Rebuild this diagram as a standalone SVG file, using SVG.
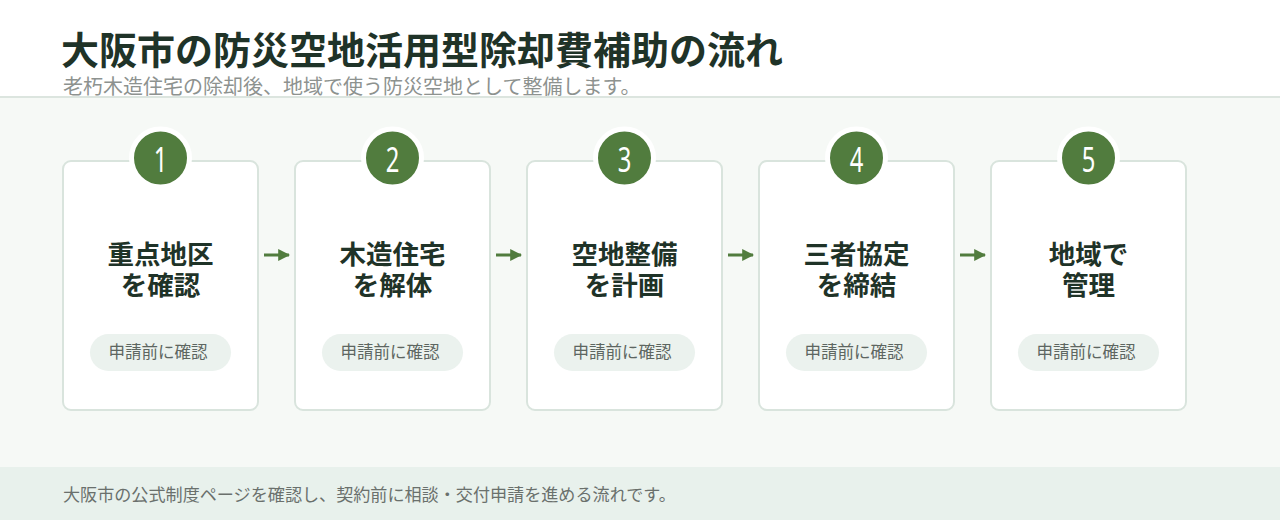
<svg xmlns="http://www.w3.org/2000/svg" width="1280" height="520" viewBox="0 0 1280 520">
<defs>
<style>
.jp{font-family:"Noto Sans CJK JP","Noto Sans",sans-serif;}
.card{fill:#ffffff;stroke:#d9e4dd;stroke-width:2;}
.badge{fill:#517c3e;stroke:#ffffff;stroke-width:5;}
.num{fill:#ffffff;font-family:"Noto Sans","DejaVu Sans",sans-serif;font-size:35px;text-anchor:middle;}
.ttl{fill:#1f3328;font-size:26.5px;font-weight:700;text-anchor:middle;}
.pill{fill:#ebf2ee;}
.ptxt{fill:#5d6661;font-size:16.5px;text-anchor:middle;}
.conn{stroke:#517c3e;stroke-width:3;fill:none;}
</style>
<marker id="ah" viewBox="0 0 10 10" refX="9" refY="5" markerWidth="4" markerHeight="4" orient="auto" markerUnits="strokeWidth">
<path d="M0,0 L10,5 L0,10 z" fill="#517c3e"/>
</marker>
</defs>
<rect x="0" y="0" width="1280" height="520" fill="#ffffff"/>
<rect x="0" y="97" width="1280" height="371" fill="#f6f9f6"/>
<line x1="0" y1="97" x2="1280" y2="97" stroke="#dce5df" stroke-width="2"/>
<rect x="0" y="467" width="1280" height="53" fill="#e8f1ec"/>
<text class="jp" x="61" y="64" font-size="38" font-weight="700" fill="#1f3328">大阪市の防災空地活用型除却費補助の流れ</text>
<text class="jp" x="63" y="94" font-size="20" fill="#8d928f">老朽木造住宅の除却後、地域で使う防災空地として整備します。</text>
<text class="jp" x="63" y="501" font-size="17.1" fill="#6a706c">大阪市の公式制度ページを確認し、契約前に相談・交付申請を進める流れです。</text>
<g id="connectors">
<line class="conn" x1="264" y1="255" x2="289" y2="255" marker-end="url(#ah)"/>
<line class="conn" x1="496" y1="255" x2="521" y2="255" marker-end="url(#ah)"/>
<line class="conn" x1="728" y1="255" x2="753" y2="255" marker-end="url(#ah)"/>
<line class="conn" x1="960" y1="255" x2="985" y2="255" marker-end="url(#ah)"/>
</g>
<g id="step1">
<rect class="card" x="63" y="161" width="195" height="249" rx="8"/>
<circle class="badge" cx="160.5" cy="158" r="29"/>
<text class="num" transform="translate(160.5,172) scale(0.68,1)">1</text>
<text class="jp ttl" x="160.5" y="264">重点地区</text>
<text class="jp ttl" x="160.5" y="295">を確認</text>
<rect class="pill" x="90" y="334" width="141" height="37" rx="18.5"/>
<text class="jp ptxt" x="158" y="358">申請前に確認</text>
</g>
<g id="step2">
<rect class="card" x="295" y="161" width="195" height="249" rx="8"/>
<circle class="badge" cx="392.5" cy="158" r="29"/>
<text class="num" transform="translate(392.5,172) scale(0.68,1)">2</text>
<text class="jp ttl" x="392.5" y="264">木造住宅</text>
<text class="jp ttl" x="392.5" y="295">を解体</text>
<rect class="pill" x="322" y="334" width="141" height="37" rx="18.5"/>
<text class="jp ptxt" x="390" y="358">申請前に確認</text>
</g>
<g id="step3">
<rect class="card" x="527" y="161" width="195" height="249" rx="8"/>
<circle class="badge" cx="624.5" cy="158" r="29"/>
<text class="num" transform="translate(624.5,172) scale(0.68,1)">3</text>
<text class="jp ttl" x="624.5" y="264">空地整備</text>
<text class="jp ttl" x="624.5" y="295">を計画</text>
<rect class="pill" x="554" y="334" width="141" height="37" rx="18.5"/>
<text class="jp ptxt" x="622" y="358">申請前に確認</text>
</g>
<g id="step4">
<rect class="card" x="759" y="161" width="195" height="249" rx="8"/>
<circle class="badge" cx="856.5" cy="158" r="29"/>
<text class="num" transform="translate(856.5,172) scale(0.68,1)">4</text>
<text class="jp ttl" x="856.5" y="264">三者協定</text>
<text class="jp ttl" x="856.5" y="295">を締結</text>
<rect class="pill" x="786" y="334" width="141" height="37" rx="18.5"/>
<text class="jp ptxt" x="854" y="358">申請前に確認</text>
</g>
<g id="step5">
<rect class="card" x="991" y="161" width="195" height="249" rx="8"/>
<circle class="badge" cx="1088.5" cy="158" r="29"/>
<text class="num" transform="translate(1088.5,172) scale(0.68,1)">5</text>
<text class="jp ttl" x="1088.5" y="264">地域で</text>
<text class="jp ttl" x="1088.5" y="295">管理</text>
<rect class="pill" x="1018" y="334" width="141" height="37" rx="18.5"/>
<text class="jp ptxt" x="1086" y="358">申請前に確認</text>
</g>
</svg>
